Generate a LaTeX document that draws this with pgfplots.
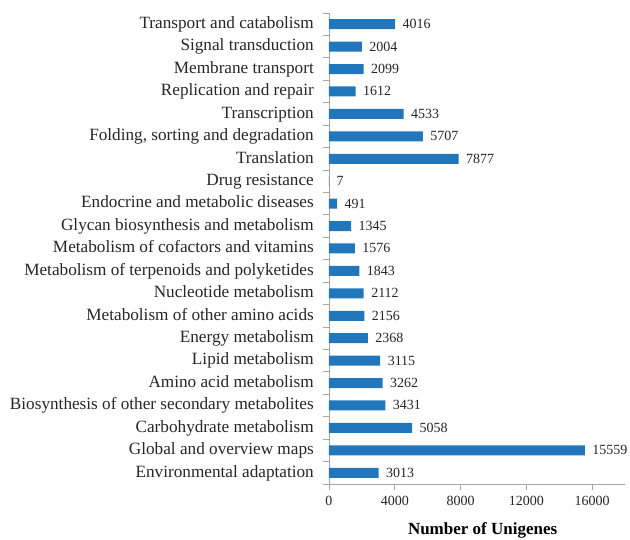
\documentclass[border=0pt]{standalone}
\usepackage{fontspec}
\setmainfont{Liberation Serif}
\usepackage{pgfplots}
\pgfplotsset{compat=1.18}
\definecolor{barblue}{RGB}{34,118,188}
\definecolor{axgray}{RGB}{166,166,166}
\begin{document}
\begin{tikzpicture}
\useasboundingbox (-329pt,-56pt) rectangle (301pt,484pt);
\begin{axis}[
    at={(0,0)}, anchor=south west,
    scale only axis,
    width=296pt, height=471pt,
    xbar, bar width=10pt,
    xmin=0, xmax=18000,
    ymin=-0.5, ymax=20.5,
    xtick={0,4000,8000,12000,16000},
    scaled x ticks=false,
    /pgf/number format/.cd, 1000 sep={}, assume math mode=true, /pgfplots/.cd,
    ytick={0,...,20},
    yticklabels={Environmental adaptation, Global and overview maps, Carbohydrate metabolism,
      Biosynthesis of other secondary metabolites, Amino acid metabolism, Lipid metabolism,
      Energy metabolism, Metabolism of other amino acids, Nucleotide metabolism,
      Metabolism of terpenoids and polyketides, Metabolism of cofactors and vitamins,
      Glycan biosynthesis and metabolism, Endocrine and metabolic diseases, Drug resistance,
      Translation, {Folding, sorting and degradation}, Transcription, Replication and repair,
      Membrane transport, Signal transduction, Transport and catabolism},
    minor ytick={-0.5,0.5,...,20.5},
    tick align=outside,
    major tick length=6pt, minor tick length=6pt,
    every major y tick/.append style={draw=none},
    axis x line*=bottom, axis y line*=left,
    axis line style={draw=axgray, line width=0.8pt},
    tick style={draw=axgray, line width=0.8pt},
    yticklabel style={font=\fontsize{17.2}{17.2}\selectfont, inner sep=0pt, xshift=-9pt, yshift=-2pt,
      text height=0.68em, text depth=0.22em, text=black!85},
    xticklabel style={font=\fontsize{14}{14}\selectfont, inner sep=0pt, yshift=-6pt, text=black!85},
    xlabel={\textbf{Number of Unigenes}},
    xlabel style={font=\fontsize{17}{17}\selectfont, at={(axis description cs:0.519,-0.098)}, anchor=center},
    nodes near coords,
    every node near coord/.append style={font=\fontsize{14}{14}\selectfont, anchor=west, xshift=4pt, yshift=-1.5pt,
      text height=0.68em, text depth=0.1em, text=black!85},
    clip=false,
]
\addplot[fill=barblue, draw=none] coordinates {
    (3013,0) (15559,1) (5058,2) (3431,3) (3262,4) (3115,5) (2368,6)
    (2156,7) (2112,8) (1843,9) (1576,10) (1345,11) (491,12) (7,13)
    (7877,14) (5707,15) (4533,16) (1612,17) (2099,18) (2004,19) (4016,20)
};
\end{axis}
\end{tikzpicture}
\end{document}
